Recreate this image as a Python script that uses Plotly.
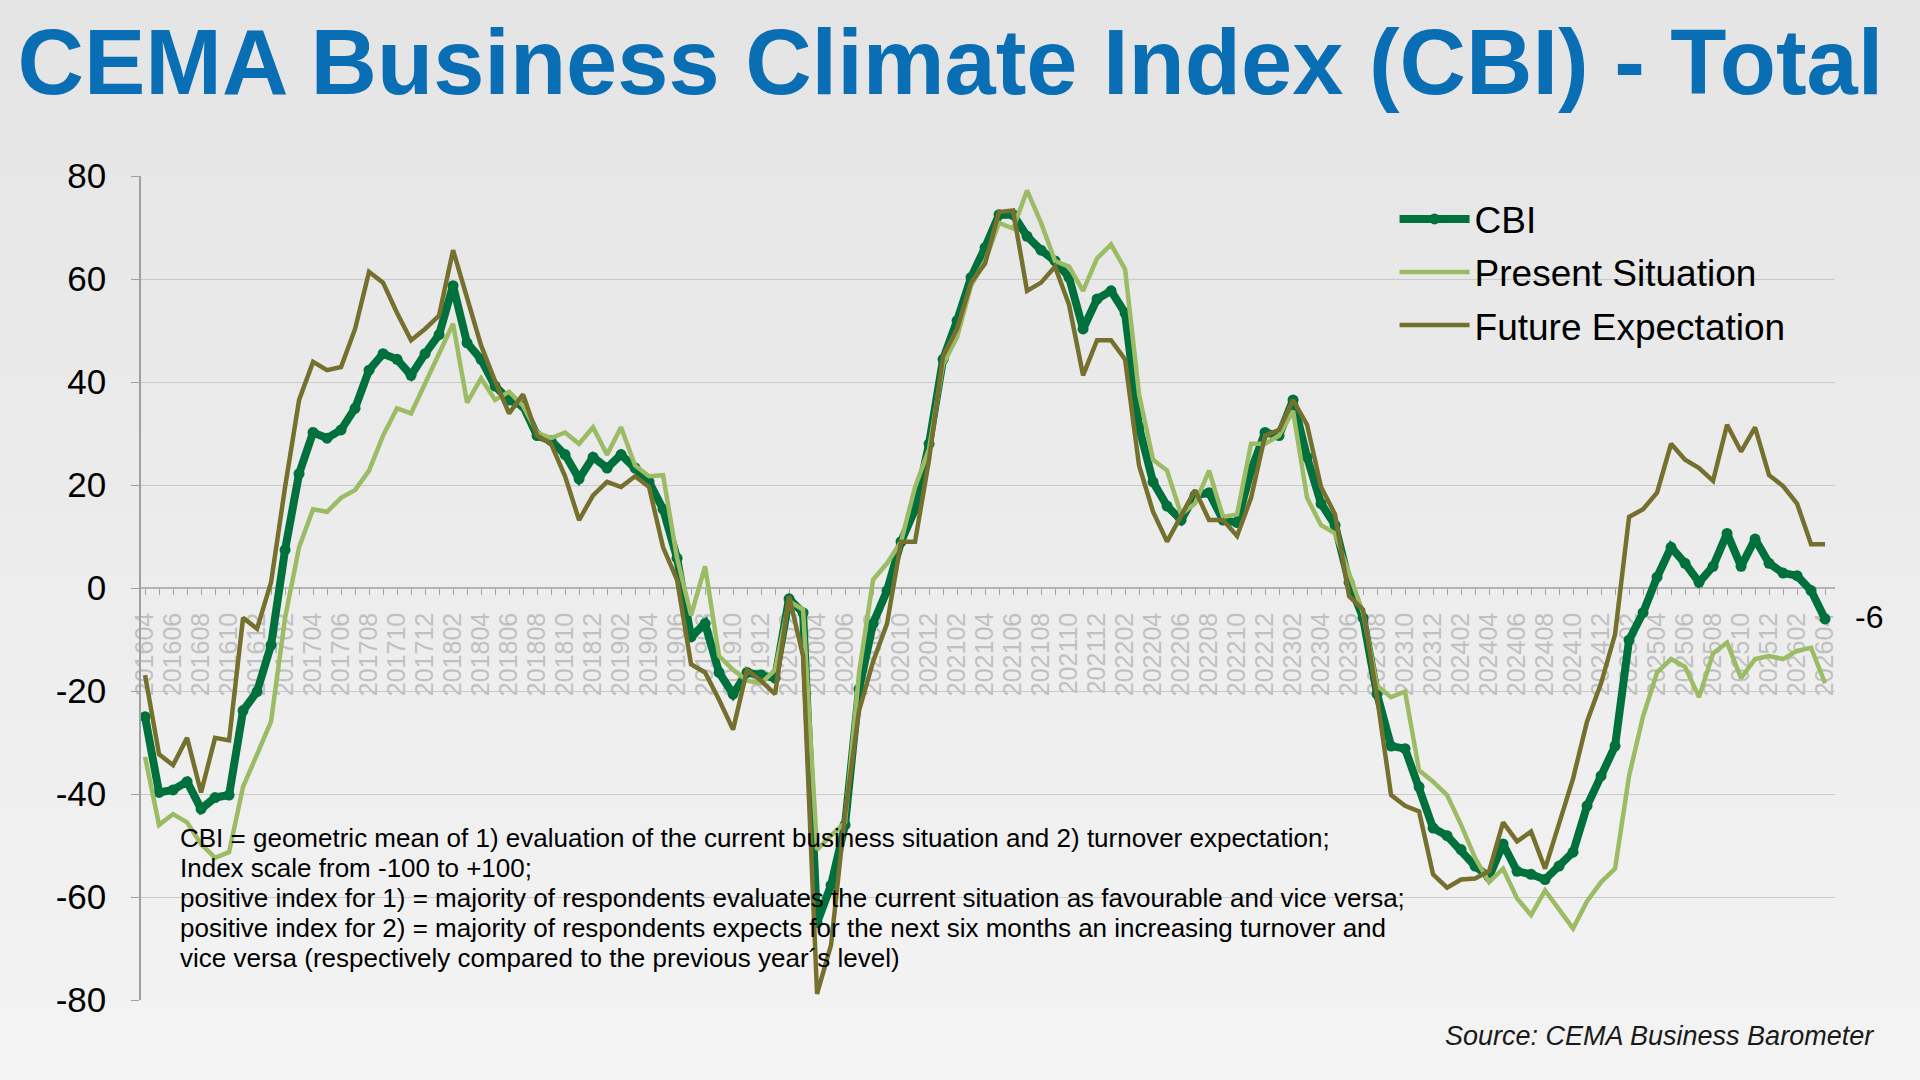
import plotly.graph_objects as go

# ---------------- data ----------------
months = []
y, m = 2016, 4
while (y, m) <= (2026, 4):
    months.append(f"{y}{m:02d}")
    m += 1
    if m > 12:
        m = 1
        y += 1

cbi = [-25, -39.7, -39.2, -37.6, -42.9, -40.7, -40.2, -23.8, -20.1, -11.1,
       7.4, 22.2, 30.2, 29.1, 30.7, 34.9, 42.3, 45.5, 44.4, 41.3,
       45.5, 49.2, 58.7, 47.6, 44.4, 39.2, 36.5, 35.4, 29.6, 28.6,
       25.9, 21.2, 25.4, 23.3, 25.9, 23.3, 20.6, 15.3, 5.8, -9.5,
       -6.9, -16.4, -20.6, -16.4, -16.9, -17.5, -2.1, -4.8, -65, -57.7,
       -46, -19.6, -6.9, -0.5, 9, 15.3, 28, 44.4, 51.9, 60.3,
       66.1, 72.5, 72.5, 68.3, 65.6, 63.5, 60.3, 50.3, 56.1, 57.7,
       53.4, 31.2, 20.6, 15.9, 13.2, 18, 18.5, 13.2, 12.7, 22.8,
       30.2, 29.6, 36.5, 25.4, 16.4, 12.2, 1.1, -5.8, -20.6, -30.7,
       -31.2, -38.6, -46.6, -48.1, -50.8, -54, -56.1, -49.7, -55, -55.6,
       -56.6, -54, -51.3, -42.3, -36.5, -30.7, -10.1, -4.8, 2.1, 7.9,
       4.8, 1.1, 4.2, 10.6, 4.2, 9.5, 4.8, 2.9, 2.4, -0.5,
       -6]

present = [-32.8, -46, -43.9, -45.5, -49.7, -52.4, -51.3, -38.6, -32.3, -25.9,
           -5.8, 7.9, 15.3, 14.8, 17.5, 19, 22.8, 29.6, 34.9, 33.9,
           39.7, 45.5, 51.3, 36, 40.7, 36.5, 38.1, 35.4, 30.2, 29.1,
           30.2, 28, 31.2, 25.9, 31.2, 23.8, 21.7, 21.9, 5.8, -5.3,
           4.2, -13.2, -15.9, -18, -18.5, -15.9, -2.6, -4.2, -50.8, -48.1,
           -45.5, -16.4, 1.6, 4.8, 9, 19.6, 27, 43.4, 48.7, 58.7,
           63.5, 70.9, 69.8, 77.2, 70.9, 63.5, 62.4, 57.7, 64, 66.7,
           61.9, 37.6, 24.9, 22.8, 14.3, 16.4, 22.8, 13.8, 14.3, 28,
           28, 29.6, 34.4, 17.5, 12.2, 10.6, 2.6, -4.8, -19, -21.2,
           -20.1, -35.4, -37.6, -40.2, -46, -52.4, -57.1, -54.5, -60.3, -63.5,
           -58.7, -62.4, -66.1, -60.8, -57.1, -54.5, -36.5, -24.9, -16.4, -13.8,
           -15.3, -21.2, -12.7, -10.6, -17.5, -13.8, -13.2, -13.8, -12.2, -11.6,
           -18.5]

future = [-16.9, -32.3, -34.4, -29.1, -39.7, -29.1, -29.6, -5.8, -7.9, 1.1,
          19.6, 36.5, 43.9, 42.3, 42.9, 50.3, 61.4, 59.3, 53.4, 48.1,
          50.3, 52.9, 65.6, 56.6, 47.1, 40.2, 33.9, 37.6, 29.6, 28,
          21.7, 13.2, 18, 20.6, 19.6, 21.7, 19.6, 7.9, 1.6, -14.8,
          -16.4, -21.7, -27.5, -15.9, -18, -20.6, -1.6, -13.2, -78.8, -69.3,
          -43.9, -23.8, -14.3, -6.9, 9, 9, 24.9, 45, 50.3, 59.3,
          63, 73, 73.3, 57.7, 59.3, 62.4, 55, 41.3, 48.1, 48.1,
          44.4, 23.8, 14.8, 9, 13.8, 19, 13.2, 13.2, 10.1, 17.5,
          29.6, 30.7, 36.5, 31.7, 19.6, 14.3, -1.6, -4.2, -21.2, -40.2,
          -42.3, -43.4, -55.6, -58.2, -56.6, -56.4, -55, -45.5, -49.2, -47.3,
          -54.5, -46, -37, -25.9, -18.5, -9, 13.8, 15.3, 18.5, 28,
          24.9, 23.3, 20.8, 31.7, 26.5, 31.2, 21.9, 19.8, 16.4, 8.5,
          8.5]

y_ticks = [-80, -60, -40, -20, 0, 20, 40, 60, 80]
y_tick_text = ["-80", "-60", "-40", "-20", "0", "20", "40", "60", "80"]
last_label = "-6"

title_text = "CEMA Business Climate Index (CBI) - Total"
note_lines = [
    "CBI = geometric mean of 1) evaluation of the current business situation and 2) turnover expectation;",
    "Index scale from -100 to +100;",
    "positive index for 1) = majority of respondents evaluates the current situation as favourable and vice versa;",
    "positive index for 2) = majority of respondents expects for the next six months an increasing turnover and",
    "vice versa (respectively compared to the previous year\u00b4s level)",
]
source_text = "Source: CEMA Business Barometer"

# ---------------- figure ----------------
x_idx = list(range(len(months)))
label_idx = x_idx[::2]
label_txt = months[::2]

fig = go.Figure()
fig.add_trace(go.Scatter(
    x=x_idx, y=cbi, name="CBI", mode="lines+markers",
    line=dict(color="#00703C", width=8),
    marker=dict(size=11, color="#00703C"),
    legendgroup="a"))
fig.add_trace(go.Scatter(
    x=x_idx, y=present, name="Present Situation", mode="lines",
    line=dict(color="#9BBB64", width=4.5), legendgroup="b"))
fig.add_trace(go.Scatter(
    x=x_idx, y=future, name="Future Expectation", mode="lines",
    line=dict(color="#76702F", width=4.5), legendgroup="c"))

# background gradient bands
shapes = []
n = 40
c0, c1 = (0xE4, 0xE4, 0xE4), (0xF4, 0xF4, 0xF4)
for k in range(n):
    t = k / (n - 1)
    col = tuple(int(round(c0[j] + (c1[j] - c0[j]) * t)) for j in range(3))
    shapes.append(dict(
        type="rect", xref="paper", yref="paper", layer="below",
        x0=-0.2, x1=1.2,
        y0=1.25 - (k + 1) * 1.4 / n, y1=1.25 - k * 1.4 / n + 0.002,
        fillcolor="rgb(%d,%d,%d)" % col, line=dict(width=0)))

fig.update_layout(
    width=1920, height=1080,
    margin=dict(l=141, r=85, t=176, b=80),
    paper_bgcolor="#ececec",
    plot_bgcolor="rgba(0,0,0,0)",
    shapes=shapes,
    font=dict(family="Liberation Sans, Arial, sans-serif", color="#000000"),
    title=dict(
        text="<b>" + title_text + "</b>",
        xref="container", yref="container",
        x=0.495, xanchor="center", y=0.943, yanchor="middle",
        font=dict(family="Liberation Sans, Arial, sans-serif",
                  size=92, color="#0A6EB4")),
    legend=dict(
        x=0.74, xanchor="left", y=0.985, yanchor="top",
        bgcolor="rgba(0,0,0,0)",
        font=dict(size=37, color="#000000"),
        itemwidth=70,
        tracegroupgap=2),
    xaxis=dict(
        range=[-0.29, 120.71],
        anchor="free", position=0.5,
        tickmode="array", tickvals=label_idx, ticktext=label_txt,
        tickangle=-90,
        ticks="outside", ticklen=6, tickcolor="#a6a6a6",
        ticklabelstandoff=8,
        minor=dict(ticks="outside", tickmode="linear", tick0=0, dtick=1,
                   ticklen=6, tickcolor="#a6a6a6"),
        showline=True, linecolor="#b4b4b4", linewidth=1.5,
        showgrid=False, zeroline=False,
        tickfont=dict(size=25, color="#c0c0c0"),
        layer="below traces"),
    yaxis=dict(
        range=[-80, 80],
        tickmode="array", tickvals=y_ticks, ticktext=y_tick_text,
        ticks="outside", ticklen=8, tickcolor="#a0a0a0",
        ticklabelstandoff=18,
        showline=True, linecolor="#a0a0a0", linewidth=1.5,
        showgrid=True, gridcolor="#cacaca", gridwidth=1,
        zeroline=False,
        tickfont=dict(size=35, color="#000000")),
)

fig.add_annotation(
    x=x_idx[-1], y=cbi[-1], xref="x", yref="y",
    text=last_label, showarrow=False,
    xanchor="left", yanchor="middle", xshift=28, yshift=2,
    font=dict(size=32, color="#000000"))

note_y = [838, 868, 898, 928, 958]
for line, py in zip(note_lines, note_y):
    fig.add_annotation(
        xref="paper", yref="paper", x=(178 - 141) / 1694, y=(1000 - py) / 824,
        xanchor="left", yanchor="middle", align="left",
        text=line, showarrow=False,
        font=dict(size=26, color="#000000"))

fig.add_annotation(
    xref="paper", yref="paper", x=(1876 - 141) / 1694, y=(1000 - 1036) / 824,
    xanchor="right", yanchor="middle",
    text="<i>" + source_text + "</i>", showarrow=False,
    font=dict(family="Liberation Sans, Arial, sans-serif",
              size=27, color="#1a1a1a"))

fig.write_html("out.html")
